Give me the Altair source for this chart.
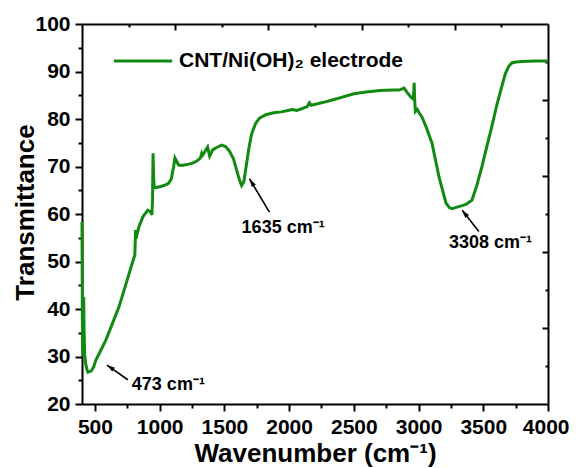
import altair as alt
import pandas as pd

# ---- data ----
wavenumber = [400, 402, 404, 407, 410, 413, 416, 420, 428, 438, 446, 460, 473, 490, 508, 540,
              585, 630, 685, 740, 800, 808, 814, 818, 824, 840, 870, 908, 930, 940, 945,
              949, 953, 958, 970, 1010, 1050, 1070, 1090, 1108, 1118, 1126, 1133, 1147, 1170,
              1210, 1255, 1290, 1315, 1325, 1332, 1345, 1358, 1370, 1386, 1410, 1440, 1479,
              1510, 1540, 1570, 1594, 1615, 1633, 1650, 1672, 1690, 1710, 1740, 1771, 1820,
              1880, 1940, 1990, 2025, 2060, 2100, 2140, 2156, 2170, 2220, 2280, 2334, 2411,
              2500, 2595, 2700, 2800, 2850, 2888, 2920, 2942, 2955, 2962, 2966, 2970, 2976,
              2990, 3004, 3027, 3060, 3104, 3158, 3212, 3240, 3262, 3290, 3330, 3366, 3412,
              3450, 3489, 3530, 3566, 3605, 3643, 3670, 3697, 3720, 3751, 3800, 3900, 4000]
transmittance = [58.3, 45.0, 33.0, 30.0, 31.0, 42.5, 35.5, 30.5, 28.5, 27.3, 26.7, 26.8, 27.0,
                 27.8, 29.3, 31.0, 33.5, 36.6, 40.4, 45.3, 50.7, 51.3, 56.6, 54.8, 55.6, 57.3,
                 59.4, 60.8, 60.4, 59.8, 63.0, 72.8, 68.0, 65.5, 65.6, 65.8, 66.2, 66.5, 67.4,
                 70.0, 71.8, 71.4, 71.0, 70.3, 70.2, 70.4, 70.7, 71.2, 71.8, 72.8, 72.4, 72.9,
                 73.6, 74.1, 72.2, 73.5, 74.0, 74.5, 74.2, 73.2, 71.6, 69.3, 67.3, 66.0, 66.8,
                 70.7, 74.0, 76.8, 79.0, 80.2, 80.9, 81.3, 81.5, 81.8, 82.0, 81.8, 82.2, 82.6,
                 83.4, 82.9, 83.2, 83.6, 84.0, 84.6, 85.3, 85.7, 86.0, 86.1, 86.1, 86.5, 85.3,
                 84.6, 84.3, 85.0, 87.6, 84.0, 81.6, 82.0, 81.3, 80.4, 78.2, 74.9, 67.8, 62.3,
                 61.3, 61.1, 61.4, 61.7, 62.0, 62.9, 66.0, 69.9, 74.5, 78.4, 83.0, 86.8, 89.5,
                 91.1, 91.8, 92.0, 92.1, 92.2, 92.2]
series_name = "CNT/Ni(OH)\u2082 electrode"

# annotations
ann_labels = ["473 cm\u207b\u00b9", "1635 cm\u207b\u00b9", "3308 cm\u207b\u00b9"]
ann_text_x = [785, 1633, 3235]
ann_text_y = [24.0, 57.05, 53.9]
ann_tip_x = [593, 1694, 3337]
ann_tip_y = [28.2, 67.4, 60.8]
ann_tail_x = [754, 1848, 3466]
ann_tail_y = [25.1, 60.4, 56.3]
ann_angle = [305, 328, 322]

# axes ticks
x_major = [500, 1000, 1500, 2000, 2500, 3000, 3500, 4000]
x_minor = [750, 1250, 1750, 2250, 2750, 3250, 3750]
y_major = [20, 30, 40, 50, 60, 70, 80, 90, 100]
y_minor = [25, 35, 45, 55, 65, 75, 85, 95]
top_major = [1120, 1840, 2560, 3280]
top_minor = [760, 1480, 2200, 2920, 3640]
right_major = [36, 52, 68, 84]
right_minor = [28, 44, 60, 76, 92]

GREEN = "#118a11"
FONT = "Liberation Sans"
W, H = 466, 380

df = pd.DataFrame({"wn": wavenumber, "T": transmittance, "series": series_name})
ann = pd.DataFrame({"label": ann_labels, "tx": ann_text_x, "ty": ann_text_y,
                    "px": ann_tip_x, "py": ann_tip_y, "qx": ann_tail_x, "qy": ann_tail_y,
                    "angle": ann_angle})

xs = alt.Scale(domain=[400, 4000], nice=False, zero=False)
ys = alt.Scale(domain=[20, 100], nice=False, zero=False)

common_axis = dict(grid=False, domainColor="black", tickColor="black", domainWidth=2,
                   tickWidth=2, labelFont=FONT, labelFontWeight="bold", labelFontSize=21,
                   labelColor="black", titleFont=FONT, titleFontWeight="bold",
                   titleFontSize=26, titleColor="black")

x_main = alt.Axis(orient="bottom", values=x_major, tickSize=7, labelPadding=5,
                  labelFlush=True, labelFlushOffset=21, labelOverlap=False,
                  title="Wavenumber (cm\u207b\u00b9)",
                  titleBaseline="alphabetic", titleY=57, format="d", **common_axis)
y_main = alt.Axis(orient="left", values=y_major, tickSize=7, labelPadding=5,
                  labelOverlap=False, title="Transmittance", titleBaseline="alphabetic",
                  titleX=-49, titleY=188, titleAngle=270, format="d", **common_axis)


def tick_axis(orient, values, size, offset=0, domain=False):
    kw = dict(orient=orient, values=values, tickSize=size, labels=False, title=None,
              domain=domain, grid=False, tickColor="black", tickWidth=2,
              domainColor="black", domainWidth=2)
    if offset:
        kw["offset"] = offset
    return alt.Axis(**kw)


base = alt.Chart(df)

line = base.mark_line(strokeWidth=3).encode(
    x=alt.X("wn:Q", scale=xs, axis=x_main),
    y=alt.Y("T:Q", scale=ys, axis=y_main),
    color=alt.Color("series:N", scale=alt.Scale(range=[GREEN]),
                    legend=alt.Legend(orient="none", legendX=30, legendY=6, title=None,
                                      symbolType="stroke", symbolSize=3400,
                                      symbolStrokeWidth=3, labelFont=FONT,
                                      labelFontWeight="bold", labelFontSize=21,
                                      labelColor="black", labelOffset=5, padding=0,
                                      labelLimit=400)),
)


def ghost(xaxis, yaxis):
    return base.mark_point(opacity=0).encode(
        x=alt.X("wn:Q", scale=xs, axis=xaxis),
        y=alt.Y("T:Q", scale=ys, axis=yaxis),
    )


minor_bl = ghost(tick_axis("bottom", x_minor, 4), tick_axis("left", y_minor, 4))
major_tr = ghost(tick_axis("bottom", top_major, 6, offset=-H, domain=True),
                 tick_axis("left", right_major, 6, offset=-W, domain=True))
minor_tr = ghost(tick_axis("bottom", top_minor, 3, offset=-H),
                 tick_axis("left", right_minor, 3, offset=-W))

ann_base = alt.Chart(ann)
shafts = ann_base.mark_rule(color="black", strokeWidth=1.6).encode(
    x=alt.X("qx:Q", scale=xs, axis=None), y=alt.Y("qy:Q", scale=ys, axis=None),
    x2="px:Q", y2="py:Q")
heads = ann_base.mark_point(shape="M0,0L-0.5,1.7L0.5,1.7Z", filled=True, color="black",
                            size=90, opacity=1).encode(
    x=alt.X("px:Q", scale=xs, axis=None), y=alt.Y("py:Q", scale=ys, axis=None),
    angle=alt.Angle("angle:Q", scale=None))
texts = ann_base.mark_text(align="left", baseline="middle", font=FONT, fontWeight="bold",
                           fontSize=18, color="black").encode(
    x=alt.X("tx:Q", scale=xs, axis=None), y=alt.Y("ty:Q", scale=ys, axis=None),
    text="label:N")

chart = alt.layer(line, minor_bl, major_tr, minor_tr, shafts, heads, texts).resolve_axis(
    x="independent", y="independent"
).properties(
    width=W, height=H,
    autosize=alt.AutoSizeParams(type="none"),
    padding={"left": 74, "top": 16, "right": 22, "bottom": 64},
).configure_view(stroke=None).configure(background="white")

chart.save("out.html", embed_options={"renderer": "svg", "actions": False})
